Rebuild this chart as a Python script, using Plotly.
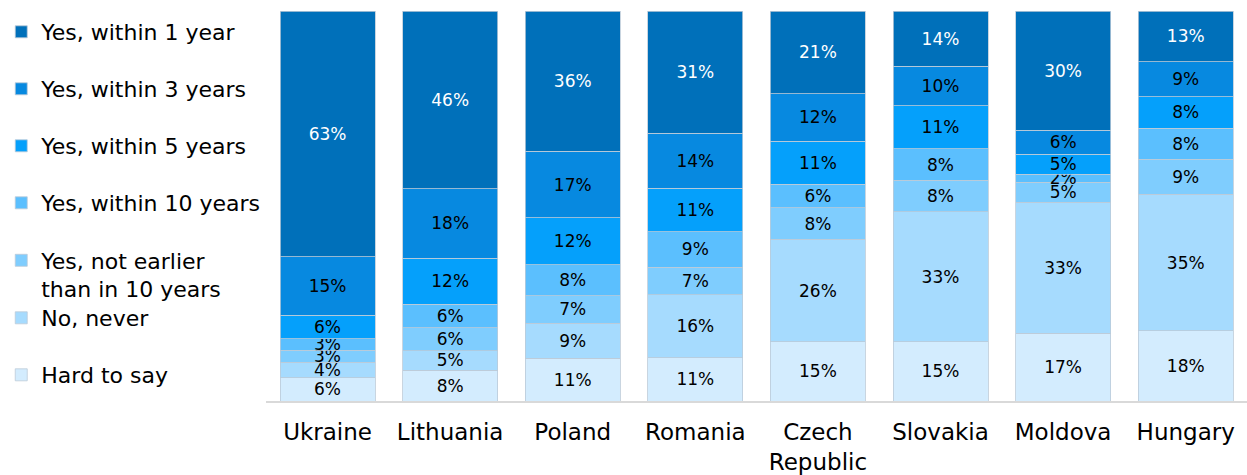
import plotly.graph_objects as go

countries = ["Ukraine", "Lithuania", "Poland", "Romania", "Czech<br>Republic",
             "Slovakia", "Moldova", "Hungary"]

# bottom -> top
series_names = ["Hard to say", "No, never", "Yes, not earlier<br>than in 10 years",
                "Yes, within 10 years", "Yes, within 5 years", "Yes, within 3 years",
                "Yes, within 1 year"]

hard_to_say   = [6, 8, 11, 11, 15, 15, 17, 18]
no_never      = [4, 5, 9, 16, 26, 33, 33, 35]
not_earlier10 = [3, 6, 7, 7, 8, 8, 5, 9]
within_10     = [3, 6, 8, 9, 6, 8, 2, 8]
within_5      = [6, 12, 12, 11, 11, 11, 5, 8]
within_3      = [15, 18, 17, 14, 12, 10, 6, 9]
within_1      = [63, 46, 36, 31, 21, 14, 30, 13]

series_values = [hard_to_say, no_never, not_earlier10, within_10, within_5, within_3, within_1]
colors = ["#D3ECFE", "#A6DBFE", "#7FCDFE", "#5BBFFE", "#05A0FB", "#0789E0", "#0070BA"]
text_colors = ["#000000"] * 6 + ["#FFFFFF"]

# legend item centre (px from top), bottom series -> top series
legend_centers = [375, 318, 275, 203, 146, 89, 32]

font_family = "DejaVu Sans"
H = 475

fig = go.Figure()
legend_layouts = {}
for i, (name, vals, col, tc, lc) in enumerate(zip(series_names, series_values, colors,
                                                    text_colors, legend_centers)):
    lname = "legend" if i == 0 else f"legend{i + 1}"
    fig.add_trace(go.Bar(
        x=countries, y=vals, name=name, legend=lname,
        marker=dict(color=col, line=dict(color="#BCCAD8", width=0.8)),
        text=vals, texttemplate="%{text}%", textposition="inside",
        insidetextanchor="middle", constraintext="none",
        textfont=dict(color=tc, size=17, family=font_family),
    ))
    legend_layouts[lname] = dict(
        xref="container", yref="container", x=0.001, y=1 - lc / H,
        xanchor="left", yanchor="middle", valign="top",
        bgcolor="rgba(0,0,0,0)", itemwidth=30,
        font=dict(size=22, family=font_family, color="#000000"),
    )

fig.update_layout(
    barmode="stack", barnorm="percent", bargap=0.225,
    width=1247, height=H,
    margin=dict(l=263, r=0, t=11, b=72),
    plot_bgcolor="white", paper_bgcolor="white",
    uniformtext=dict(minsize=17, mode="show"),
    font=dict(family=font_family, color="#000000"),
    showlegend=True,
    **legend_layouts,
)
fig.update_xaxes(showline=True, linecolor="#D9D9D9", linewidth=2,
                 tickfont=dict(size=23, family=font_family), ticks="",
                 ticklabelstandoff=9)
fig.update_yaxes(visible=False, range=[0, 100])

fig.write_html("out.html", config={"displayModeBar": False},
               post_script="document.body.style.margin='0';")
